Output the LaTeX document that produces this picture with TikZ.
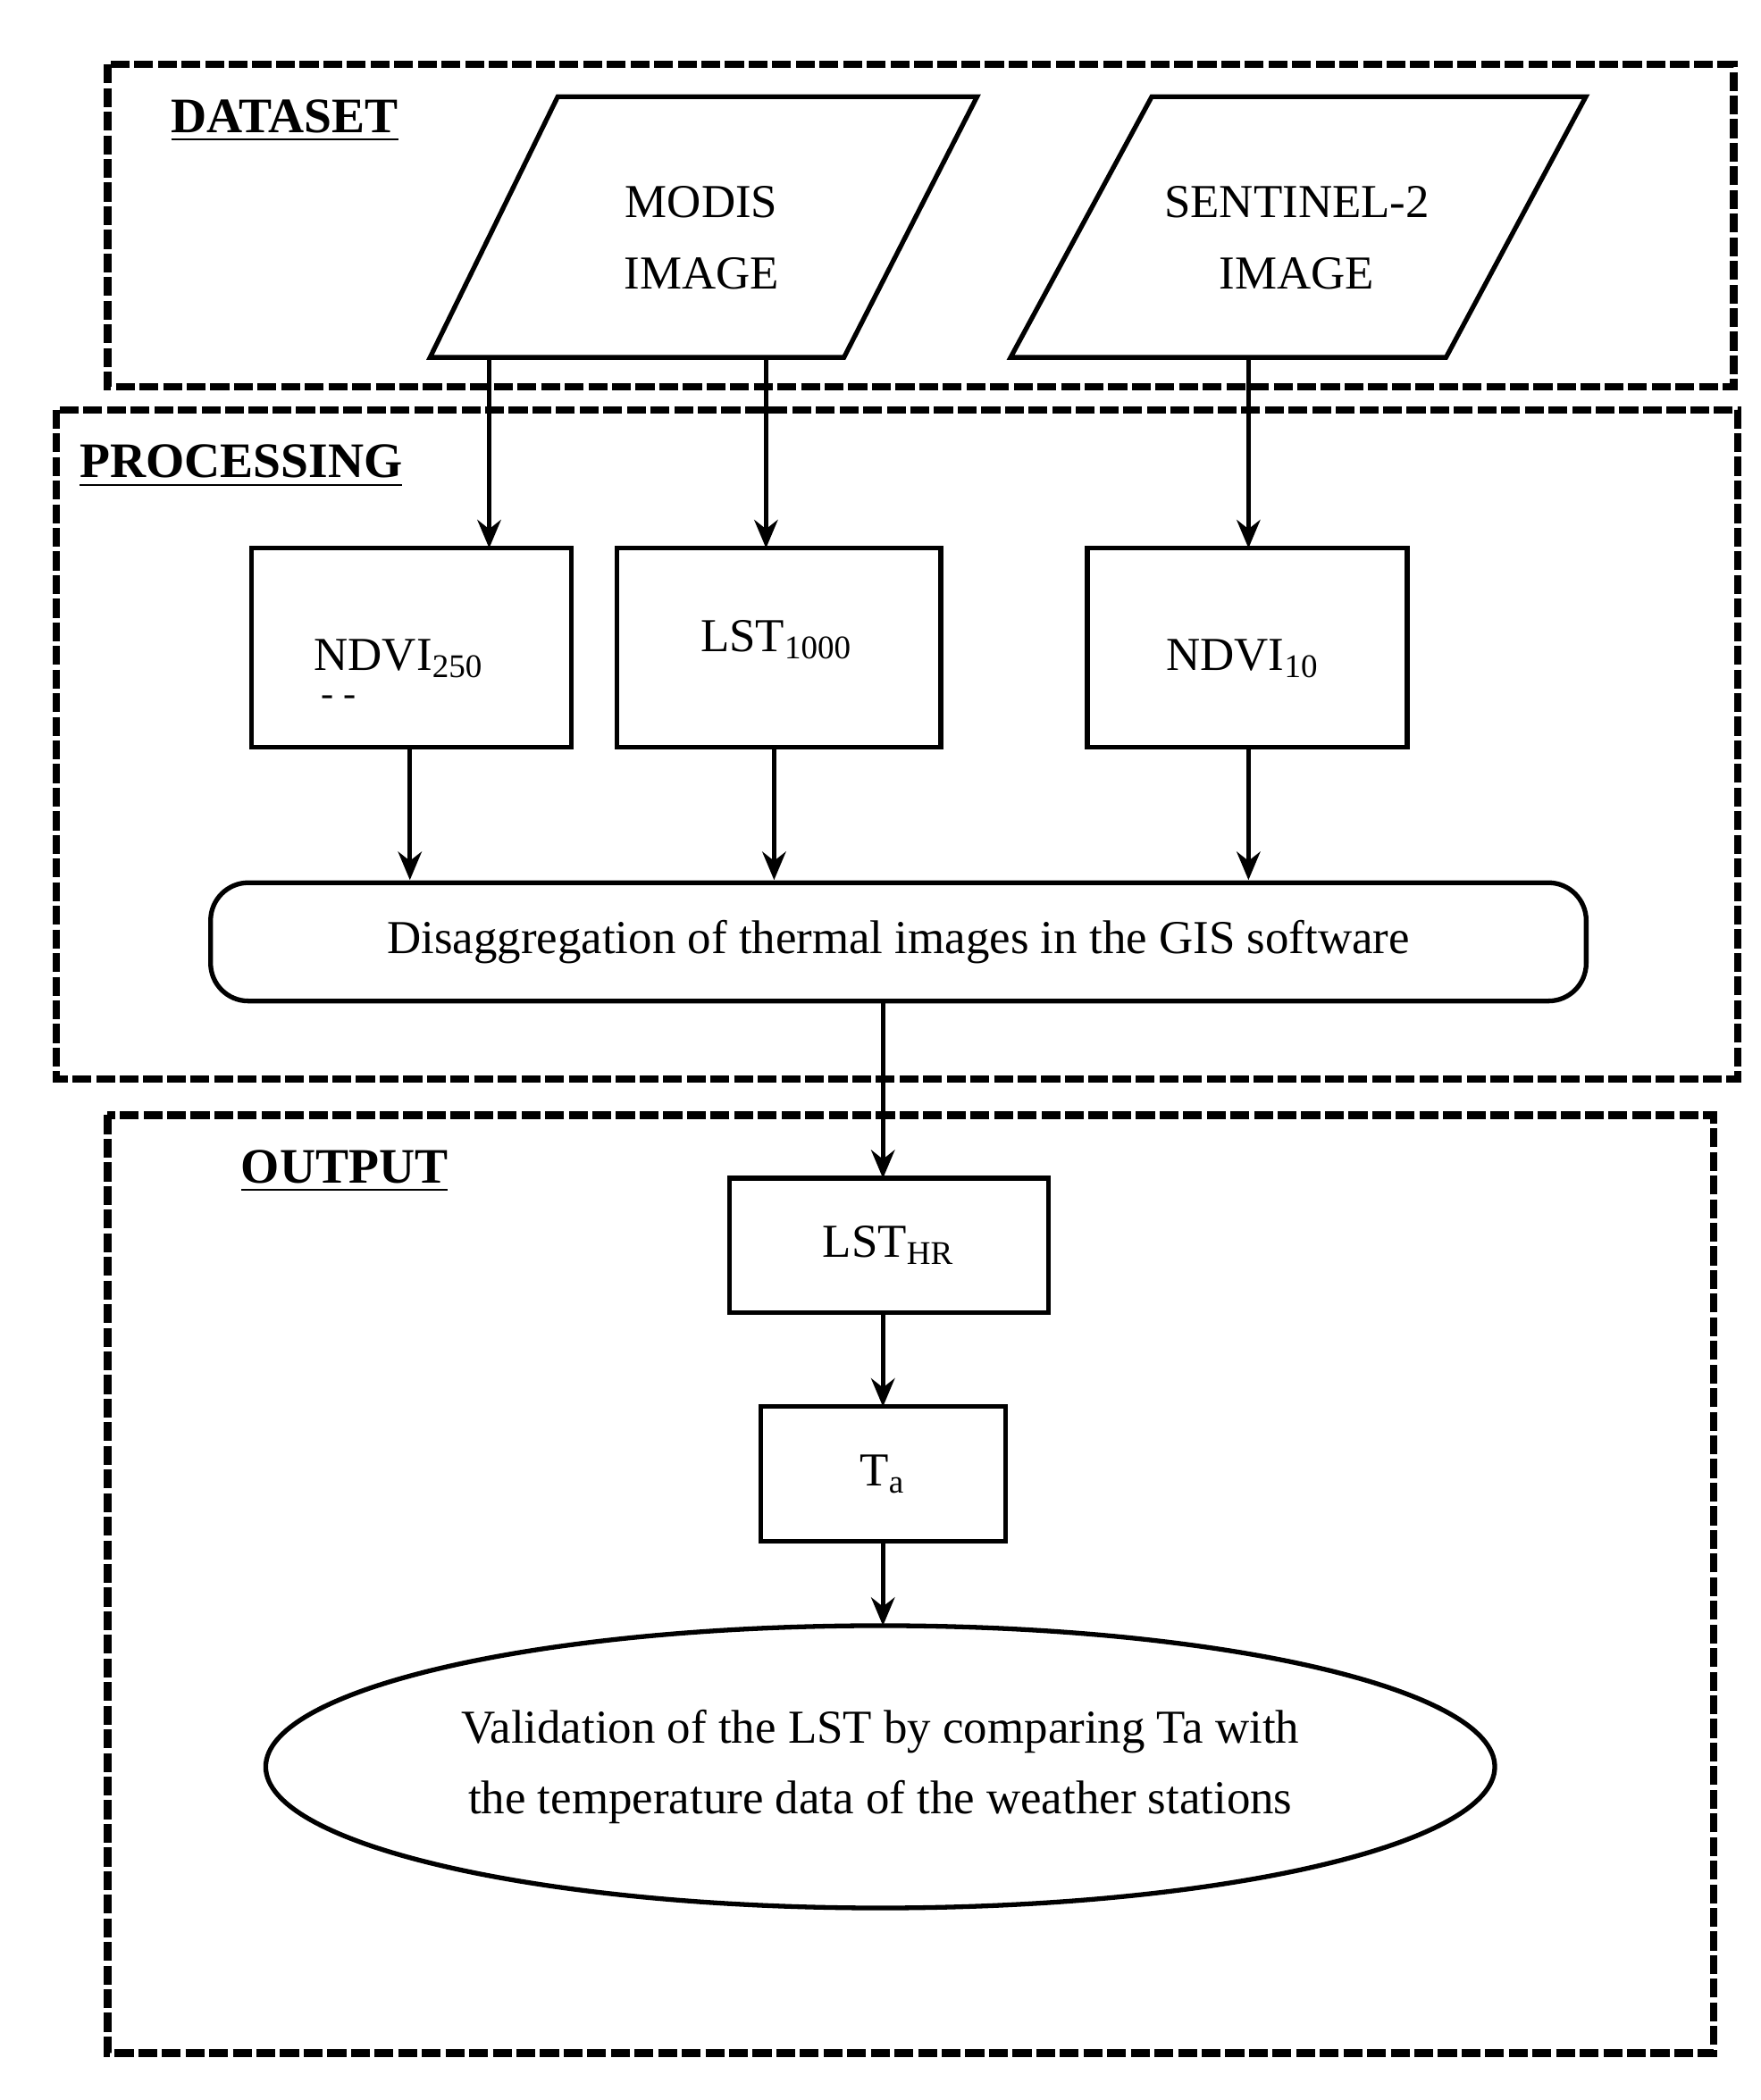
\documentclass[tikz,border=0pt]{standalone}
\usepackage{fontspec}
\setmainfont{Liberation Serif}
\usetikzlibrary{shapes.geometric,arrows.meta}
\begin{document}
\begin{tikzpicture}[x=0.01cm,y=-0.01cm,
  frame/.style={line width=1.6pt,dash pattern=on 4pt off 1pt},
  box/.style={draw,line width=1pt},
  lbl/.style={font=\fontsize{10.5}{13}\selectfont\bfseries,anchor=west},
  txt/.style={font=\fontsize{10}{15}\selectfont,align=center},
  arr/.style={-{Stealth[length=6pt,width=5pt]},line width=0.9pt}]
\useasboundingbox (0,0) rectangle (1310,1563);
% frames
\draw[frame] (80,48) rectangle (1290,288);
\draw[frame] (42,305) rectangle (1293,803);
\draw[frame] (80,830) rectangle (1275,1528);
\node[lbl] (l1) at (115,90) {\underline{DATASET}};
\node[lbl] (l2) at (47,347) {\underline{PROCESSING}};
\node[lbl] (l3) at (167,872) {\underline{OUTPUT}};
% parallelograms
\draw[box] (415,72) -- (727,72) -- (628,266) -- (320,266) -- cycle;
\node[txt] (modis) at (522,177) {MODIS\\IMAGE};
\draw[box] (857,72) -- (1180,72) -- (1076,266) -- (752,266) -- cycle;
\node[txt] (sent) at (965,177) {SENTINEL-2\\IMAGE};
\coordinate (m1) at (364,266);
\coordinate (m2) at (570,266);
\coordinate (s1) at (929,266);
% processing boxes
\draw[box] (187,408) rectangle (425,556);
\node[txt] (ndvi250) at (297,490) {NDVI\textsubscript{250}};
\node[font=\fontsize{8}{8}\selectfont] (dash) at (252,522) {- -};
\draw[box] (459,408) rectangle (700,556);
\node[txt] (lst1000) at (578,476) {LST\textsubscript{1000}};
\draw[box] (809,408) rectangle (1047,556);
\node[txt] (ndvi10) at (925,490) {NDVI\textsubscript{10}};
\coordinate (a1) at (364,408);
\coordinate (a2) at (570,408);
\coordinate (a3) at (929,408);
\draw[arr] (m1) -- (a1);
\draw[arr] (m2) -- (a2);
\draw[arr] (s1) -- (a3);
\node[draw,line width=1pt,rounded corners=8pt,minimum width=10.23cm,minimum height=0.88cm,font=\fontsize{10}{13}\selectfont] (dis) at (668.5,701) {Disaggregation of thermal images in the GIS software};
\draw[arr] (305,556) -- (305,655);
\draw[arr] (576,556) -- (576,655);
\draw[arr] (929,556) -- (929,655);
% output
\node[box,minimum width=2.37cm,minimum height=1cm,font=\fontsize{10}{13}\selectfont] (lsthr) at (661.5,927) {LST\textsubscript{HR}};
\node[box,minimum width=1.82cm,minimum height=1cm,font=\fontsize{10}{13}\selectfont] (ta) at (657,1097) {T\textsubscript{a}};
\node[draw,ellipse,line width=1pt,inner sep=0pt,minimum width=9.14cm,minimum height=2.1cm,txt] (val) at (655,1315) {Validation of the LST by comparing Ta with\\the temperature data of the weather stations};
\coordinate (vt) at (657,1210);
\draw[arr] (657,745) -- (657,877);
\draw[arr] (657,977) -- (657,1047);
\draw[arr] (657,1147) -- (vt);
\end{tikzpicture}
\end{document}
